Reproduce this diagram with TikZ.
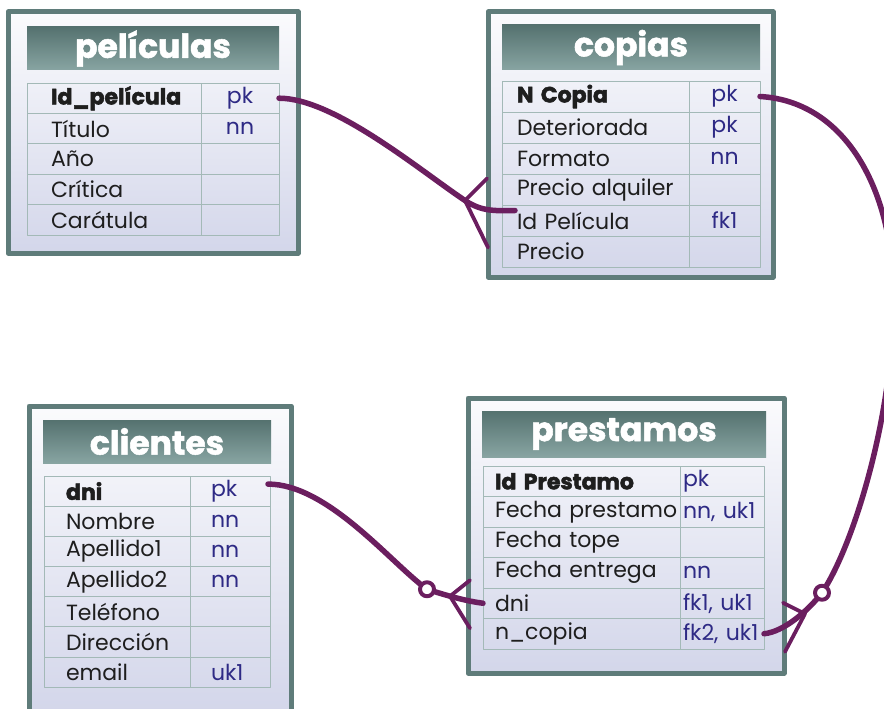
\documentclass[tikz,border=0pt]{standalone}
\usepackage{fontspec}
\setmainfont{Poppins}
\usetikzlibrary{positioning,calc}
\definecolor{marco}{HTML}{5F7C7A}
\definecolor{cabeza}{HTML}{6A8E8B}
\definecolor{rejilla}{HTML}{A3B9B7}
\definecolor{plata}{HTML}{D3D6EA}
\definecolor{tinta}{HTML}{1E1E1E}
\definecolor{clavecol}{HTML}{2E2A85}
\definecolor{relcol}{HTML}{6B1E5F}

\begin{document}
\begin{tikzpicture}[
  x=1pt,
  y=-1pt,
  line cap=round,
  line join=round,
  every node/.style={
    inner sep=0pt,
    outer sep=0pt,
  },
  tabla/.style={
    rectangle,
    anchor=north west,
    draw=marco,
    line width=5pt,
    top color=white!90!plata,
    middle color=white,
    bottom color=plata,
  },
  cabecera/.style={
    rectangle,
    anchor=north west,
    top color=cabeza!80!black,
    bottom color=cabeza!80!white,
    text=white,
    font=\fontsize{33}{35}\selectfont\bfseries\addfontfeature{FakeBold=1.6},
  },
  campo/.style={
    rectangle,
    anchor=north west,
    draw=rejilla,
    line width=0.8pt,
    align=left,
    inner xsep=12pt,
    text=tinta,
    font=\fontsize{22}{24}\selectfont,
  },
  clave/.style={
    rectangle,
    anchor=north west,
    draw=rejilla,
    line width=0.8pt,
    align=center,
    text=clavecol,
    font=\fontsize{22}{24}\selectfont,
  },
  rel/.style={
    draw=relcol,
    line width=5.5pt,
  },
  pata/.style={
    draw=relcol,
    line width=3.8pt,
  },
  opcional/.style={
    circle,
    draw=relcol,
    line width=4pt,
    fill=white,
    minimum size=14pt,
  },
]
\newcommand{\gruesa}[1]{{\bfseries\addfontfeature{FakeBold=2.4}#1}}
\useasboundingbox (0,0) rectangle (884,709);

% --- peliculas ---
\node[tabla, minimum width=290pt, minimum height=241pt] (peliculas) at (8,12) {};
\node[cabecera, minimum width=252pt, minimum height=43pt] (peliculas-t) at (27,27) {películas};
\foreach \campo/\clave [count=\i] in {{\gruesa{Id\_película}}/pk, Título/nn, Año/, Crítica/, Carátula/}{
  \node[campo, inner xsep=24pt, text width=126pt, minimum height=30.4pt] (pel-\i) at (27,{83+30.4*(\i-1)}) {\mbox{\campo}};
  \node[clave, text width=78pt, minimum height=30.4pt] (pel-k\i) at (201,{83+30.4*(\i-1)}) {\clave};
}

% --- copias ---
\node[tabla, minimum width=285pt, minimum height=265pt] (copias) at (488,12) {};
\node[cabecera, minimum width=258pt, minimum height=45pt] (copias-t) at (502,25) {copias};
\foreach \campo/\clave [count=\i] in {{\gruesa{N Copia}}/pk, Deteriorada/pk, Formato/nn, Precio alquiler/, Id Película/fk1, Precio/}{
  \node[campo, inner xsep=15pt, text width=157pt, minimum height=31pt] (cop-\i) at (502,{81+31*(\i-1)}) {\mbox{\campo}};
  \node[clave, text width=71pt, minimum height=31pt] (cop-k\i) at (689,{81+31*(\i-1)}) {\clave};
}

% --- clientes ---
\node[tabla, minimum width=262pt, minimum height=306pt] (clientes) at (29,406) {};
\node[cabecera, minimum width=228pt, minimum height=43pt] (clientes-t) at (43,420) {clientes};
\foreach \campo/\clave [count=\i] in {{\gruesa{dni}}/pk, Nombre/nn, Apellido1/nn, Apellido2/nn, Teléfono/, Dirección/, email/uk1}{
  \node[campo, inner xsep=22pt, text width=102pt, minimum height=30.15pt] (cli-\i) at (44,{476+30.15*(\i-1)}) {\mbox{\campo}};
  \node[clave, align=left, inner xsep=21pt, text width=38pt, minimum height=30.15pt] (cli-k\i) at (190,{476+30.15*(\i-1)}) {\mbox{\clave}};
}

% --- prestamos ---
\node[tabla, minimum width=316pt, minimum height=275pt] (prestamos) at (468,398) {};
\node[cabecera, minimum width=284pt, minimum height=46pt] (prestamos-t) at (482,411) {prestamos};
\foreach \campo/\clave [count=\i] in {{\gruesa{Id Prestamo}}/pk, Fecha prestamo/{nn, uk1}, Fecha tope/, Fecha entrega/nn, dni/{fk1, uk1}, n\_copia/{fk2, uk1}}{
  \node[campo, text width=173pt, minimum height=30.5pt] (pre-\i) at (483,{466+30.5*(\i-1)}) {\mbox{\campo}};
  \node[clave, align=left, inner xsep=3pt, text width=78pt, minimum height=30.5pt] (pre-k\i) at (680,{466+30.5*(\i-1)}) {\mbox{\clave}};
}

% --- relaciones ---
% peliculas -> copias
\coordinate (pc-v) at ($(cop-5.west)+(-37,-20)$);
\coordinate (pc-e) at ($(cop-5.west)+(13,-10)$);
\draw[rel] (pel-k1.east) .. controls +(55,0) and +(-45,-30) .. (pc-v)
  .. controls +(18,12) and +(-18,0) .. (pc-e);
\draw[pata] ($(pc-v)+(22,-22)$) -- (pc-v) -- ($(pc-v)+(23,47)$);

% clientes -> prestamos
\coordinate (cp-s) at ($(cli-k1.east)+(-2,-7)$);
\coordinate (cp-o) at ($(pre-5.west)+(-56,-14)$);
\coordinate (cp-v) at ($(pre-5.west)+(-33,-7)$);
\draw[rel] (cp-s) .. controls +(60,0) and +(-35,-25) .. (cp-o)
  .. controls +(25,8) and +(-15,-2) .. (pre-5.west);
\draw[pata] ($(cp-v)+(20,-16)$) -- (cp-v) -- ($(cp-v)+(20,32)$);
\node[opcional] (cp-c) at (cp-o) {};

% copias -> prestamos
\coordinate (cq-m) at (893,320);
\coordinate (cq-o) at ($(pre-k6.east)+(58,-41)$);
\coordinate (cq-v) at ($(pre-k6.east)+(41,-20)$);
\draw[rel] (cop-k1.east) .. controls +(90,5) and +(7,-120) .. (cq-m)
  .. controls +(-4,110) and +(30,-45) .. (cq-o)
  .. controls +(-14,18) and +(20,-2) .. (pre-k6.east);
\draw[pata] ($(cq-v)+(-22,-11)$) -- (cq-v) -- ($(cq-v)+(-20,38)$);
\node[opcional] (cq-c) at (cq-o) {};

\end{tikzpicture}
\end{document}
